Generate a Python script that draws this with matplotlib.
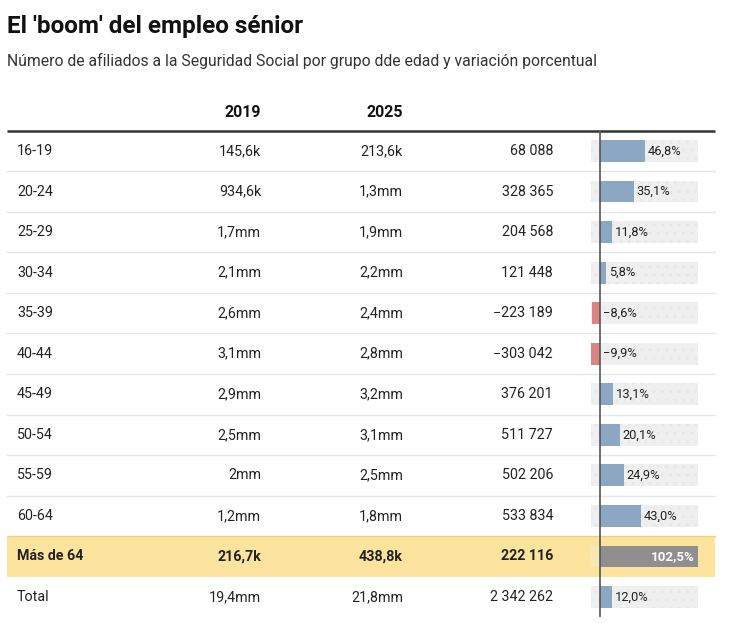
import matplotlib
matplotlib.use("Agg")
import matplotlib.pyplot as plt

plt.rcParams['font.family'] = ['Roboto', 'DejaVu Sans']
plt.rcParams['hatch.linewidth'] = 0.6

# ---- data ----
ages = ["16-19", "20-24", "25-29", "30-34", "35-39", "40-44", "45-49",
        "50-54", "55-59", "60-64", "Más de 64", "Total"]
v2019 = ["145,6k", "934,6k", "1,7mm", "2,1mm", "2,6mm", "3,1mm", "2,9mm",
         "2,5mm", "2mm", "1,2mm", "216,7k", "19,4mm"]
v2025 = ["213,6k", "1,3mm", "1,9mm", "2,2mm", "2,4mm", "2,8mm", "3,2mm",
         "3,1mm", "2,5mm", "1,8mm", "438,8k", "21,8mm"]
diff = [68088, 328365, 204568, 121448, -223189, -303042, 376201,
        511727, 502206, 533834, 222116, 2342262]
pct = [46.8, 35.1, 11.8, 5.8, -8.6, -9.9, 13.1, 20.1, 24.9, 43.0, 102.5, 12.0]
headers = ["2019", "2025"]
highlight = "Más de 64"

title = "El 'boom' del empleo sénior"
subtitle = "Número de afiliados a la Seguridad Social por grupo dde edad y variación porcentual"

# ---- helpers ----
def fmt_int(v):
    s = f"{abs(v):,}".replace(",", " ")
    return ("\u2212" if v < 0 else "") + s

def fmt_pct(v):
    s = f"{abs(v):.1f}".replace(".", ",") + "%"
    return ("\u2212" if v < 0 else "") + s

W, H = 746, 623
fig = plt.figure(figsize=(W / 100, H / 100), dpi=100)
ax = fig.add_axes([0, 0, 1, 1])
ax.set_xlim(0, W)
ax.set_ylim(H, 0)
ax.axis("off")

TXT = "#222222"
row0 = 151.0
rh = 40.55
n = len(ages)

def ry(i):
    return row0 + rh * i

ax.text(7, 33, title, fontsize=17.5, fontweight="bold", color="#111111", va="baseline")
ax.text(7, 66, subtitle, fontsize=11.3, color="#333333", va="baseline")

ax.text(261, 117, headers[0], fontsize=11.5, fontweight="bold", ha="right", va="baseline", color="#111111")
ax.text(403, 117, headers[1], fontsize=11.5, fontweight="bold", ha="right", va="baseline", color="#111111")
ax.plot([7, 715], [130.5, 130.5], color="#333333", lw=1.8, solid_capstyle="butt")

for i in range(n):
    y = ry(i)
    hl = ages[i] == highlight
    if hl:
        ax.add_patch(plt.Rectangle((7, y - rh / 2 - 0.5), 708, rh + 0.5,
                                   facecolor="#fde49e", edgecolor="none", zorder=0))
        ax.plot([7, 715], [y - rh / 2 - 0.5] * 2, color="#f1d37e", lw=1, zorder=1)
    elif i < n - 1 and ages[i + 1] != highlight:
        ax.plot([7, 715], [y + rh / 2] * 2, color="#e6e6e6", lw=1, zorder=1)
    fw = "bold" if hl else "normal"
    kw = dict(fontsize=10.3, fontweight=fw, color=TXT, va="center")
    ax.text(17, y, ages[i], ha="left", **kw)
    ax.text(261, y, v2019[i], ha="right", **kw)
    ax.text(403, y, v2025[i], ha="right", **kw)
    ax.text(553, y, fmt_int(diff[i]), ha="right", **kw)

# ---- bar column ----
top = ry(0) - rh / 2
bot = ry(n - 1) + rh / 2
x0, x1 = 591, 698
bax = fig.add_axes([x0 / W, 1 - bot / H, (x1 - x0) / W, (bot - top) / H])
bax.patch.set_alpha(0)
bax.axis("off")
lo, hi = min(pct), max(pct)
bax.set_xlim(lo, hi)
bax.set_ylim(n - 0.5, -0.5)

idx = list(range(n))
bh = 0.54
bg_colors = ["#f7e7b0" if a == highlight else "#efefef" for a in ages]
bax.barh(idx, [hi - lo] * n, left=lo, height=bh, color=bg_colors,
         edgecolor="#e7e7e7", linewidth=0, hatch="..", zorder=1)
colors = []
for a, v in zip(ages, pct):
    if a == highlight:
        colors.append("#8f8f8f")
    elif v < 0:
        colors.append("#db8484")
    else:
        colors.append("#8ba7c4")
bax.barh(idx, pct, height=bh, color=colors, linewidth=0, zorder=2)
bax.axvline(0, color="#555555", lw=1.2, zorder=4)

for i, (a, v) in enumerate(zip(ages, pct)):
    if a == highlight:
        bax.annotate(fmt_pct(v), (v, i), xytext=(-2, 0), textcoords="offset points",
                     ha="right", va="center", fontsize=9.6, fontweight="bold",
                     color="white", zorder=5)
    else:
        bax.annotate(fmt_pct(v), (max(v, 0), i), xytext=(2, 0), textcoords="offset points",
                     ha="left", va="center", fontsize=9.3, color="#222222", zorder=5)

fig.savefig("out.png", dpi=100)
